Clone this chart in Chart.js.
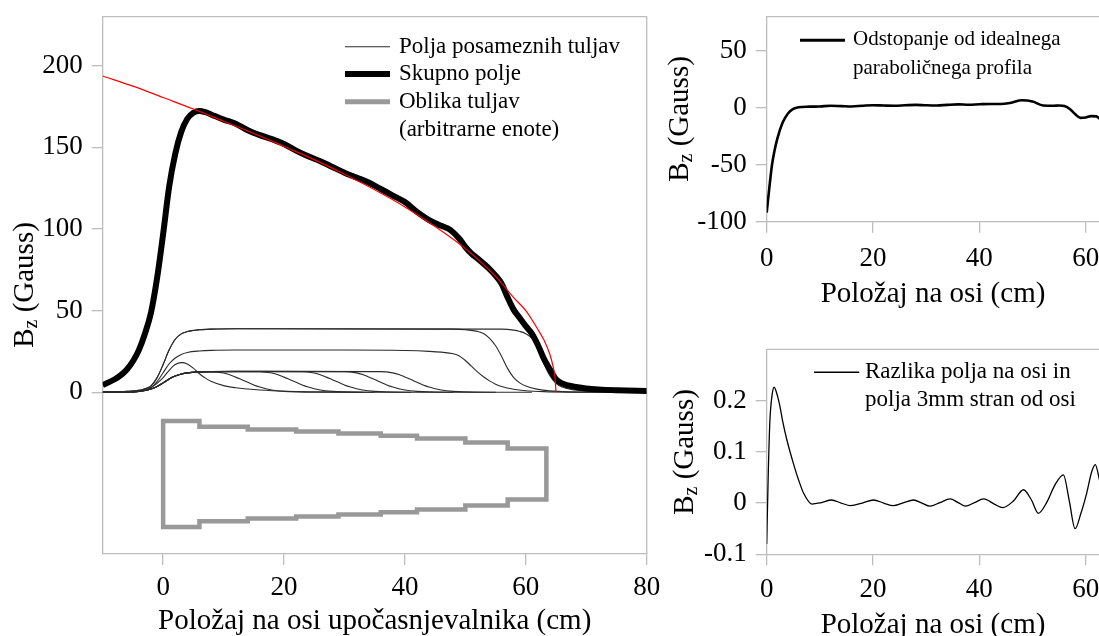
<!DOCTYPE html>
<html>
<head>
<meta charset="utf-8">
<script src="https://cdn.jsdelivr.net/npm/chart.js@4.4.1/dist/chart.umd.min.js"></script>
<style>
  html, body { margin: 0; padding: 0; background: #fff; }
  #wrap { position: relative; width: 1099px; height: 636px; overflow: hidden; }
  canvas { position: absolute; }
</style>
</head>
<body>
<div id="wrap">
  <canvas id="main" width="660" height="636" style="left:0;top:0;width:660px;height:636px"></canvas>
  <canvas id="dev" width="439" height="318" style="left:660px;top:0;width:439px;height:318px"></canvas>
  <canvas id="diff" width="439" height="318" style="left:660px;top:318px;width:439px;height:318px"></canvas>
</div>
<script>
// ---- main panel: field along the decelerator axis ----
var mainXTicks = [0, 20, 40, 60, 80];
var mainYTicks = [0, 50, 100, 150, 200];

// ideal (parabolic) profile, red
var idealX = [-10, -5, 0, 5, 10, 15, 20, 25, 30, 35, 40, 45, 50, 55, 58, 60, 62, 63, 64, 64.5, 64.8, 65];
var idealY = [193.7, 187.5, 180.5, 173.5, 166, 158.5, 150.5, 142.5, 133.5, 124, 113.5, 101.5, 88, 71, 58, 50, 38.5, 32, 23, 16, 10, 0];

// total field, thick black
var totalX = [-10, -8, -7, -6, -5, -4, -3, -2, -1, 0, 1, 2, 3, 4, 5, 6, 7, 8, 10, 12, 14, 16, 18, 20, 22, 24, 26, 28, 30, 32, 34, 36, 38, 40, 42, 44, 46, 47.5, 49, 50, 51, 52, 54, 55, 56, 57, 58, 59, 60, 61, 62, 63, 64, 65, 66, 67, 68, 70, 72, 75, 80];
var totalY = [4.5, 8, 10.5, 14, 19, 26, 36, 49, 70, 97, 126, 146, 159.5, 167.5, 171.2, 172.3, 171.5, 170, 167, 164.5, 160.5, 157.5, 155, 152, 148, 144.5, 141.5, 138, 134.5, 131.5, 128.5, 124.5, 120.5, 116.5, 110.5, 105.5, 102, 99.5, 94, 89, 85, 82, 75.5, 71.5, 66.5, 58, 50.5, 45.5, 40.5, 36, 29, 20.5, 14, 8, 5.5, 4.2, 3.4, 2.4, 1.8, 1.3, 0.8];

// fields of the single coils, thin
var coil1X = [-10, -6, -4, -3, -2, -1, 0, 1, 2, 3, 4, 5, 6, 7, 8, 10, 12, 14, 16, 18, 22, 28, 35];
var coil1Y = [0.1, 0.2, 0.7, 1.5, 3, 5.5, 9, 13.5, 17, 18.2, 17.4, 14.8, 11.4, 8.7, 6.6, 4.1, 2.8, 2, 1.4, 1, 0.5, 0.2, 0];
var coil2X = [-10, -6, -4, -3, -2, -1, 0, 1, 2, 3, 4, 6, 8, 10, 11, 12, 13, 14, 15, 16, 17, 18, 20, 22, 26, 33];
var coil2Y = [0.1, 0.2, 0.6, 1.1, 2, 3.6, 5.8, 8.2, 10, 11.2, 11.9, 12.5, 12.5, 11.8, 10.8, 9.3, 7.7, 6.1, 4.5, 3.2, 2.2, 1.4, 0.6, 0.25, 0.05, 0];
var coil3X = [-10, -6, -4, -3, -2, -1, 0, 1, 2, 3, 4, 6, 8, 12, 16, 18, 19, 20, 21, 22, 23, 24, 25, 26, 28, 30, 34, 41];
var coil3Y = [0.1, 0.2, 0.6, 1.1, 2, 3.6, 5.8, 8.2, 10, 11.2, 11.9, 12.5, 12.7, 12.7, 12.6, 11.8, 10.8, 9.3, 7.7, 6.1, 4.5, 3.2, 2.2, 1.4, 0.6, 0.25, 0.05, 0];
var coil4X = [-10, -6, -4, -3, -2, -1, 0, 1, 2, 3, 4, 6, 8, 12, 23, 25, 26, 27, 28, 29, 30, 31, 32, 33, 35, 37, 41, 48];
var coil4Y = [0.1, 0.2, 0.6, 1.1, 2, 3.6, 5.8, 8.2, 10, 11.2, 11.9, 12.5, 12.7, 12.7, 12.6, 11.8, 10.8, 9.3, 7.7, 6.1, 4.5, 3.2, 2.2, 1.4, 0.6, 0.25, 0.05, 0];
var coil5X = [-10, -6, -4, -3, -2, -1, 0, 1, 2, 3, 4, 6, 8, 12, 30, 32, 33, 34, 35, 36, 37, 38, 39, 40, 42, 44, 48, 55];
var coil5Y = [0.1, 0.2, 0.6, 1.1, 2, 3.6, 5.8, 8.2, 10, 11.2, 11.9, 12.5, 12.7, 12.8, 12.7, 11.9, 10.9, 9.4, 7.8, 6.1, 4.5, 3.2, 2.2, 1.4, 0.6, 0.25, 0.05, 0];
var coil6X = [-10, -6, -4, -3, -2, -1, 0, 1, 2, 3, 4, 6, 8, 12, 36, 38, 39, 40, 41, 42, 43, 44, 45, 46, 48, 50, 54, 61];
var coil6Y = [0.1, 0.2, 0.6, 1.1, 2, 3.6, 5.8, 8.2, 10, 11.2, 11.9, 12.5, 12.7, 12.8, 12.7, 11.9, 10.9, 9.4, 7.8, 6.1, 4.5, 3.2, 2.2, 1.4, 0.6, 0.25, 0.05, 0];
var coil7X = [-10, -6, -4, -3, -2, -1, 0, 1, 2, 3, 4, 6, 8, 12, 30, 40, 44, 46, 48, 49, 50, 51, 52, 53, 54, 55, 56, 58, 60, 63, 68, 75];
var coil7Y = [0.2, 0.4, 0.8, 1.5, 2.8, 6.5, 12, 17.5, 21, 23.2, 24.4, 25.3, 25.7, 25.9, 25.9, 25.6, 25.1, 24.6, 23.6, 22.3, 19.5, 16, 12.5, 9.5, 7, 5, 3.6, 1.9, 1, 0.4, 0.1, 0];
var coil8X = [-10, -6, -4, -3, -2, -1, 0, 1, 2, 3, 4, 6, 8, 12, 48, 50, 52, 53, 54, 55, 56, 57, 58, 59, 60, 62, 64, 67, 72, 80];
var coil8Y = [0.3, 0.6, 1.2, 2.2, 4, 9, 17, 26, 32.5, 35.8, 37.2, 38.3, 38.7, 38.9, 38.7, 38.3, 37.3, 36, 33, 28.5, 22, 14.5, 9, 5.8, 3.8, 1.8, 0.9, 0.3, 0.1, 0];
var coil9X = [-10, -6, -4, -3, -2, -1, 0, 1, 2, 3, 4, 6, 8, 12, 56, 58, 59, 60, 61, 62, 63, 64, 65, 66, 68, 70, 74, 80];
var coil9Y = [0.3, 0.6, 1.2, 2.2, 4, 9, 17, 26, 32.5, 35.8, 37.2, 38.3, 38.7, 38.9, 38.7, 38.1, 37.3, 35.9, 33, 27, 17.5, 10, 5.5, 3.3, 1.4, 0.7, 0.25, 0.1];

// coil outline (arbitrary units): section edges and upper/lower sides
var shapeEdges = [0, 6, 14, 22, 29, 36, 42, 50, 57, 63.4];
var shapeTop = [-17.6, -21.1, -22.8, -24, -25.2, -26.6, -28.3, -30.7, -34.4];
var shapeBottom = [-82.4, -78.9, -77.2, -76, -74.8, -73.4, -71.7, -69.3, -65.6];

// ---- top right: deviation from ideal profile ----
var devXTicks = [0, 20, 40, 60];
var devYTicks = [-100, -50, 0, 50];
var devX = [0, 0.5, 1, 1.5, 2, 3, 4, 5, 6, 8, 10, 12, 14, 16, 18, 20, 22, 24, 26, 28, 30, 32, 34, 36, 38, 40, 42, 44, 46, 48, 50, 52, 54, 55, 56, 57, 58, 59, 60, 61, 62, 62.6];
var devY = [-92, -70, -50, -37, -27, -13, -5, -1, 0.5, 1, 1.2, 1.8, 1.5, 1.2, 1.8, 2.3, 2, 1.8, 2.2, 2.6, 2.2, 2, 2.6, 3, 2.7, 3.1, 3.4, 3.3, 4.5, 6.6, 5.5, 2, 1.8, 2, 1.5, -1, -5.5, -8.8, -8.5, -7.3, -7.5, -9.5];

// ---- bottom right: on-axis minus 3mm off-axis ----
var diffXTicks = [0, 20, 40, 60];
var diffYTicks = [-0.1, 0, 0.1, 0.2];
var diffX = [0, 0.3, 0.6, 1, 1.4, 2, 2.5, 3, 3.8, 5, 6, 7, 8.5, 10.3, 12.2, 14, 15.8, 18, 20.1, 22, 23.8, 25.8, 27.6, 29.2, 30.7, 32.6, 34.5, 36, 37.4, 39.1, 40.8, 42.8, 44.4, 46.4, 48.3, 49.8, 51.1, 52.6, 54.2, 55.8, 56.9, 58, 59.1, 60.2, 61.1, 61.8, 62.6];
var diffY = [-0.08, 0.06, 0.16, 0.21, 0.226, 0.21, 0.188, 0.16, 0.123, 0.078, 0.045, 0.018, -0.002, 0.001, 0.006, 0, -0.005, 0, 0.006, 0, -0.005, 0.001, 0.006, 0, -0.006, 0.001, 0.008, 0.001, -0.006, 0.001, 0.008, -0.002, -0.009, 0.004, 0.026, 0.006, -0.02, 0, 0.035, 0.055, 0.005, -0.05, -0.02, 0.02, 0.06, 0.075, 0.045];

var FONT = "'Liberation Serif', 'Times New Roman', serif";
var GRID = '#bdbdbd';

function pts(xs, ys) {
  return xs.map(function(x, i) { return {x: x, y: ys[i]}; });
}

function outline() {
  var p = [];
  for (var i = 0; i < shapeTop.length; i++) {
    p.push({x: shapeEdges[i], y: shapeTop[i]});
    p.push({x: shapeEdges[i + 1], y: shapeTop[i]});
  }
  for (var j = shapeBottom.length - 1; j >= 0; j--) {
    p.push({x: shapeEdges[j + 1], y: shapeBottom[j]});
    p.push({x: shapeEdges[j], y: shapeBottom[j]});
  }
  p.push({x: shapeEdges[0], y: shapeTop[0]});
  p.push({x: shapeEdges[1], y: shapeTop[0]});
  return p;
}

// frame, axis titles and legend drawn by hand
var decor = {
  id: 'decor',
  beforeDatasetsDraw: function(chart, args, o) {
    var a = chart.chartArea, ctx = chart.ctx;
    ctx.save();
    ctx.strokeStyle = GRID;
    ctx.lineWidth = 1.3;
    ctx.beginPath();
    ctx.moveTo(a.left, a.top);
    ctx.lineTo(a.right, a.top);
    if (o.rightBorder) ctx.lineTo(a.right, a.bottom);
    ctx.stroke();
    ctx.restore();
  },
  afterDraw: function(chart, args, o) {
    var ctx = chart.ctx;
    ctx.save();
    ctx.fillStyle = '#000';
    ctx.textBaseline = 'middle';

    // x title
    ctx.font = '29px ' + FONT;
    ctx.textAlign = 'center';
    ctx.fillText(o.xTitle, o.xTitlePos[0], o.xTitlePos[1]);

    // y title: B with subscript z, then (Gauss)
    ctx.save();
    ctx.translate(o.yTitlePos[0], o.yTitlePos[1]);
    ctx.rotate(-Math.PI / 2);
    ctx.textAlign = 'left';
    ctx.font = '29px ' + FONT;
    var wB = ctx.measureText('B').width;
    var wRest = ctx.measureText(' (Gauss)').width;
    ctx.font = '20px ' + FONT;
    var wz = ctx.measureText('z').width;
    var x0 = -(wB + wz + wRest) / 2;
    ctx.font = '29px ' + FONT;
    ctx.fillText('B', x0, 0);
    ctx.font = '20px ' + FONT;
    ctx.fillText('z', x0 + wB, 7);
    ctx.font = '29px ' + FONT;
    ctx.fillText(' (Gauss)', x0 + wB + wz, 0);
    ctx.restore();

    // legend
    var lg = o.legend;
    ctx.font = lg.size + 'px ' + FONT;
    ctx.textAlign = 'left';
    lg.items.forEach(function(it, i) {
      var y = lg.rows[i];
      if (it.color) {
        ctx.strokeStyle = it.color;
        ctx.lineWidth = it.width;
        ctx.beginPath();
        ctx.moveTo(lg.x0, y + (it.dy || 0));
        ctx.lineTo(lg.x1, y + (it.dy || 0));
        ctx.stroke();
      }
      ctx.fillText(it.text, lg.tx, y);
    });
    ctx.restore();
  }
};

function noPad(s) {
  s.paddingLeft = 0; s.paddingRight = 0; s.paddingTop = 0; s.paddingBottom = 0;
}

function scales(c) {
  return {
    x: {
      type: 'linear', min: c.xMin, max: c.xMax,
      afterBuildTicks: function(s) { s.ticks = c.xTicks.map(function(v) { return {value: v}; }); },
      afterFit: function(s) { s.height = c.xHeight; noPad(s); },
      grid: { drawOnChartArea: false, drawTicks: true, tickLength: 11, color: GRID, lineWidth: 1.3 },
      border: { color: GRID, width: 1.3 },
      ticks: { font: { family: FONT, size: 27 }, color: '#000', padding: c.xPad, maxRotation: 0, autoSkip: false,
               callback: function(v) { return String(v); } }
    },
    y: {
      type: 'linear', min: c.yMin, max: c.yMax,
      afterBuildTicks: function(s) { s.ticks = c.yTicks.map(function(v) { return {value: v}; }); },
      afterFit: function(s) { s.width = c.yWidth; noPad(s); },
      grid: { drawOnChartArea: false, drawTicks: true, tickLength: 11, color: GRID, lineWidth: 1.3 },
      border: { color: GRID, width: 1.3 },
      ticks: { font: { family: FONT, size: 27 }, color: '#000', padding: 9, autoSkip: false,
               callback: function(v) { return String(v); } }
    }
  };
}

function thin(xs, ys) {
  return { data: pts(xs, ys), borderColor: '#2b2b2b', borderWidth: 1.1, pointRadius: 0,
           cubicInterpolationMode: 'monotone', clip: 0, order: 3 };
}

new Chart(document.getElementById('main'), {
  type: 'line',
  data: {
    datasets: [
      { data: pts(idealX, idealY), borderColor: '#ff0000', borderWidth: 1.2, pointRadius: 0,
        cubicInterpolationMode: 'monotone', clip: 0, order: 0 },
      { data: pts(totalX, totalY), borderColor: '#000', borderWidth: 6, pointRadius: 0,
        cubicInterpolationMode: 'monotone', clip: 0, order: 1 },
      thin(coil1X, coil1Y), thin(coil2X, coil2Y), thin(coil3X, coil3Y),
      thin(coil4X, coil4Y), thin(coil5X, coil5Y), thin(coil6X, coil6Y),
      thin(coil7X, coil7Y), thin(coil8X, coil8Y), thin(coil9X, coil9Y),
      { data: outline(), borderColor: '#999999', borderWidth: 4.5, pointRadius: 0, tension: 0,
        borderJoinStyle: 'miter', clip: 0, order: 4 }
    ]
  },
  options: {
    responsive: false, animation: false, devicePixelRatio: 1,
    layout: { autoPadding: false, padding: { left: 0, right: 13.3, top: 16.7, bottom: 0 } },
    scales: scales({ xMin: -10, xMax: 80, xTicks: mainXTicks, xHeight: 82, xPad: 7,
                     yMin: -99, yMax: 230, yTicks: mainYTicks, yWidth: 102.7 }),
    plugins: {
      legend: { display: false }, tooltip: { enabled: false },
      decor: {
        rightBorder: true,
        xTitle: 'Položaj na osi upočasnjevalnika (cm)', xTitlePos: [374.7, 621],
        yTitlePos: [25, 285],
        legend: { size: 23, x0: 345, x1: 390, tx: 399, rows: [46.7, 74, 101.7, 130],
          items: [
            { text: 'Polja posameznih tuljav', color: '#2b2b2b', width: 1.1 },
            { text: 'Skupno polje', color: '#000', width: 6 },
            { text: 'Oblika tuljav', color: '#999999', width: 5 },
            { text: '(arbitrarne enote)' }
          ] }
      }
    }
  },
  plugins: [decor]
});

new Chart(document.getElementById('dev'), {
  type: 'line',
  data: {
    datasets: [
      { data: pts(devX, devY), borderColor: '#000', borderWidth: 2.6, pointRadius: 0,
        cubicInterpolationMode: 'monotone' }
    ]
  },
  options: {
    responsive: false, animation: false, devicePixelRatio: 1,
    layout: { autoPadding: false, padding: { left: 0, right: 0, top: 16.7, bottom: 0 } },
    scales: scales({ xMin: 0, xMax: 62.5, xTicks: devXTicks, xHeight: 96.3, xPad: 10,
                     yMin: -100, yMax: 80, yTicks: devYTicks, yWidth: 106.7 }),
    plugins: {
      legend: { display: false }, tooltip: { enabled: false },
      decor: {
        rightBorder: false,
        xTitle: 'Položaj na osi (cm)', xTitlePos: [273, 294],
        yTitlePos: [20, 119],
        legend: { size: 21, x0: 140, x1: 185, tx: 193, rows: [39.3, 68.3],
          items: [
            { text: 'Odstopanje od idealnega', color: '#000', width: 3, dy: 1 },
            { text: 'paraboličnega profila' }
          ] }
      }
    }
  },
  plugins: [decor]
});

new Chart(document.getElementById('diff'), {
  type: 'line',
  data: {
    datasets: [
      { data: pts(diffX, diffY), borderColor: '#000', borderWidth: 1.3, pointRadius: 0,
        cubicInterpolationMode: 'monotone' }
    ]
  },
  options: {
    responsive: false, animation: false, devicePixelRatio: 1,
    layout: { autoPadding: false, padding: { left: 0, right: 0, top: 31.3, bottom: 0 } },
    scales: scales({ xMin: 0, xMax: 62.5, xTicks: diffXTicks, xHeight: 81.7, xPad: 8,
                     yMin: -0.1, yMax: 0.3, yTicks: diffYTicks, yWidth: 106.7 }),
    plugins: {
      legend: { display: false }, tooltip: { enabled: false },
      decor: {
        rightBorder: false,
        xTitle: 'Položaj na osi (cm)', xTitlePos: [273, 307],
        yTitlePos: [25, 134],
        legend: { size: 23, x0: 154, x1: 199.3, tx: 205, rows: [53.7, 82],
          items: [
            { text: 'Razlika polja na osi in', color: '#000', width: 1.4, dy: 0.6 },
            { text: 'polja 3mm stran od osi' }
          ] }
      }
    }
  },
  plugins: [decor]
});
</script>
</body>
</html>
